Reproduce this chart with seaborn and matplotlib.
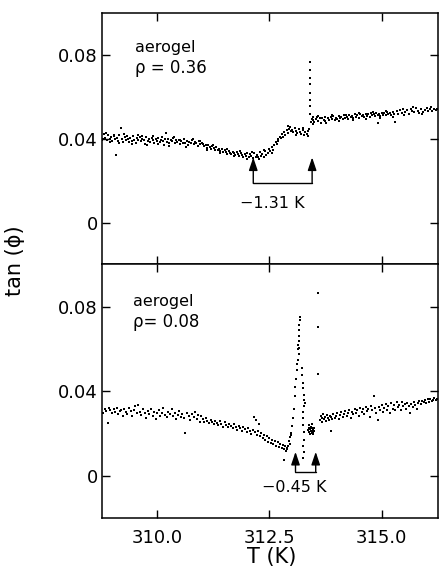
import numpy as np
import pandas as pd
import matplotlib
matplotlib.use("Agg")
import matplotlib.pyplot as plt
import seaborn as sns

# ---------------- data: aerogel rho = 0.36 ----------------
top_T = [
    308.76, 308.79, 308.82, 308.85, 308.88, 308.91, 308.94, 308.97, 309.00, 309.03,
    309.06, 309.08, 309.10, 309.13, 309.16, 309.19, 309.22, 309.25, 309.28, 309.31,
    309.34, 309.37, 309.40, 309.43, 309.46, 309.49, 309.52, 309.55, 309.58, 309.61,
    309.64, 309.67, 309.70, 309.73, 309.76, 309.79, 309.82, 309.85, 309.88, 309.91,
    309.94, 309.97, 310.00, 310.03, 310.06, 310.09, 310.12, 310.15, 310.18, 310.20,
    310.21, 310.24, 310.27, 310.30, 310.33, 310.36, 310.39, 310.42, 310.45, 310.48,
    310.51, 310.54, 310.57, 310.60, 310.63, 310.66, 310.69, 310.72, 310.75, 310.78,
    310.81, 310.84, 310.87, 310.90, 310.93, 310.96, 310.99,
    311.02, 311.05, 311.08, 311.11, 311.14, 311.17, 311.20, 311.23, 311.26, 311.29,
    311.32, 311.35, 311.38, 311.41, 311.44, 311.47, 311.50, 311.53, 311.56, 311.59,
    311.62, 311.65, 311.68, 311.71, 311.74, 311.77, 311.80, 311.83, 311.86, 311.89,
    311.92, 311.95, 311.98, 312.01, 312.04, 312.07, 312.10, 312.13, 312.16, 312.19,
    312.22, 312.25, 312.28, 312.31, 312.34, 312.37, 312.40, 312.43,
    312.46, 312.49, 312.52, 312.55, 312.58, 312.61, 312.64, 312.67, 312.70, 312.73,
    312.76, 312.79, 312.82, 312.85, 312.88, 312.91, 312.92, 312.94, 312.97, 313.00,
    313.03, 313.06, 313.09, 313.12, 313.15, 313.18, 313.21, 313.24, 313.27, 313.30,
    313.33, 313.36, 313.38,
    313.41, 313.41, 313.41, 313.41, 313.41, 313.41, 313.41, 313.41,
    313.42, 313.44, 313.46, 313.48, 313.50, 313.53, 313.56, 313.59, 313.62, 313.65,
    313.68, 313.71, 313.74, 313.77, 313.80, 313.83, 313.86, 313.89, 313.92, 313.95,
    313.98, 314.01, 314.04, 314.07, 314.10, 314.13, 314.16, 314.19, 314.22, 314.25,
    314.28, 314.31, 314.34, 314.37, 314.40, 314.43, 314.46, 314.49, 314.52, 314.55,
    314.58, 314.61, 314.64, 314.67, 314.70, 314.73, 314.76, 314.79, 314.82, 314.85,
    314.88, 314.91, 314.91, 314.94, 314.97, 315.00, 315.03, 315.06, 315.09, 315.12,
    315.15, 315.18, 315.21, 315.24, 315.27, 315.30,
    315.33, 315.36, 315.40, 315.44, 315.48, 315.52, 315.56, 315.60, 315.64, 315.68,
    315.72, 315.76, 315.80, 315.84, 315.88, 315.92, 315.96, 316.00, 316.04, 316.08,
    316.12, 316.16, 316.20, 316.24,
    # second sweep through the same range
    308.78, 308.87, 308.95, 309.05, 309.15, 309.27, 309.36, 309.45, 309.57, 309.66,
    309.78, 309.90, 310.02, 310.11, 310.26, 310.38, 310.52, 310.65, 310.80, 310.95,
    311.10, 311.25, 311.40, 311.55, 311.70, 311.85, 312.00, 312.12, 312.26, 312.38,
    312.56, 312.68, 312.80, 312.96, 313.10, 313.25, 313.35, 313.47, 313.58, 313.73,
    313.90, 314.05, 314.20, 314.35, 314.50, 314.66, 314.80, 314.95, 315.10, 315.25,
    315.50, 315.70, 315.90, 316.10,
]
top_tan = [
    .0412, .0398, .0421, .0404, .0392, .0416, .0400, .0409, .0388, .0413,
    .0397, .0322, .0405, .0390, .0418, .0452, .0399, .0386, .0408, .0394,
    .0411, .0383, .0402, .0391, .0415, .0396, .0380, .0404, .0392, .0409,
    .0387, .0400, .0394, .0375, .0406, .0390, .0398, .0384, .0403, .0392,
    .0379, .0399, .0388, .0405, .0383, .0395, .0390, .0372, .0398, .0428,
    .0386, .0401, .0381, .0393, .0387, .0403, .0378, .0392, .0385, .0396,
    .0374, .0389, .0382, .0397, .0379, .0390, .0369, .0386, .0378, .0393,
    .0375, .0384, .0380, .0366, .0388, .0373, .0381,
    .0377, .0364, .0372, .0358, .0369, .0361, .0352, .0366, .0355, .0348,
    .0361, .0345, .0353, .0340, .0349, .0336, .0347, .0338, .0329, .0343,
    .0333, .0326, .0339, .0330, .0321, .0335, .0327, .0318, .0331, .0323,
    .0314, .0328, .0319, .0334, .0312, .0325, .0317, .0308, .0330, .0315,
    .0322, .0311, .0336, .0318, .0327, .0314, .0340, .0323,
    .0331, .0352, .0340, .0362, .0348, .0371, .0383, .0376, .0398, .0410,
    .0402, .0421, .0432, .0418, .0440, .0428, .0462, .0447, .0436, .0443,
    .0431, .0449, .0438, .0428, .0445, .0433, .0424, .0440, .0418, .0432,
    .0421, .0437, .0445,
    .0520, .0555, .0585, .0617, .0660, .0690, .0730, .0767,
    .0482, .0495, .0488, .0502, .0479, .0493, .0505, .0487, .0498, .0476,
    .0500, .0491, .0506, .0474, .0497, .0488, .0503, .0494, .0508, .0490,
    .0501, .0495, .0510, .0497, .0504, .0492, .0512, .0499, .0506, .0495,
    .0514, .0502, .0509, .0498, .0516, .0505, .0511, .0500, .0518, .0507,
    .0513, .0503, .0520, .0509, .0516, .0506, .0521, .0511, .0517, .0508,
    .0523, .0513, .0476, .0519, .0510, .0525, .0515, .0521, .0512, .0526,
    .0517, .0522, .0514, .0528, .0520, .0480,
    .0530, .0519, .0535, .0524, .0541, .0528, .0536, .0520, .0543, .0531,
    .0526, .0545, .0533, .0524, .0540, .0529, .0537, .0546, .0534, .0541,
    .0530, .0544, .0538, .0542,
    .0395, .0426, .0385, .0420, .0378, .0423, .0398, .0376, .0419, .0411,
    .0372, .0412, .0376, .0410, .0366, .0407, .0396, .0362, .0399, .0388,
    .0345, .0372, .0330, .0352, .0316, .0340, .0305, .0338, .0302, .0346,
    .0330, .0390, .0410, .0455, .0420, .0449, .0415, .0470, .0510, .0485,
    .0512, .0486, .0515, .0489, .0522, .0496, .0527, .0500, .0532, .0505,
    .0515, .0550, .0518, .0552,
]

# ---------------- data: aerogel rho = 0.08 ----------------
bot_T = [
    308.76, 308.80, 308.83, 308.86, 308.90, 308.93, 308.96, 309.00, 309.03, 309.07,
    309.10, 309.13, 309.17, 309.20, 309.24, 309.27, 309.30, 309.34, 309.37, 309.41,
    309.44, 309.48, 309.51, 309.55, 309.58, 309.62, 309.65, 309.69, 309.72, 309.76,
    309.79, 309.83, 309.86, 309.90, 309.93, 309.97, 310.00, 310.04, 310.07, 310.11,
    310.14, 310.18, 310.21, 310.25, 310.28, 310.32, 310.35, 310.39, 310.42, 310.46,
    310.49, 310.53, 310.56, 310.60, 310.63, 310.67, 310.70, 310.74, 310.77, 310.81,
    310.84, 310.88, 310.91, 310.95, 310.98,
    311.01, 311.05, 311.08, 311.12, 311.15, 311.19, 311.22, 311.26, 311.29, 311.33,
    311.36, 311.40, 311.43, 311.47, 311.50, 311.54, 311.57, 311.61, 311.64, 311.68,
    311.71, 311.75, 311.78, 311.82, 311.85, 311.89, 311.92, 311.96, 311.99, 312.03,
    312.06, 312.10, 312.13, 312.16, 312.18, 312.20, 312.22, 312.25, 312.27, 312.29,
    312.32, 312.35, 312.38, 312.41, 312.44, 312.47, 312.50, 312.53, 312.56, 312.59,
    312.62, 312.65, 312.68, 312.71, 312.74, 312.77, 312.80, 312.82, 312.83, 312.84,
    312.86, 312.88, 312.90, 312.92, 312.93, 312.95, 312.96, 312.97,
    312.98, 313.00, 313.02, 313.04, 313.06, 313.08, 313.09, 313.11, 313.12, 313.13,
    313.14, 313.145, 313.15, 313.15, 313.155, 313.16, 313.16, 313.165, 313.17, 313.175,
    313.22, 313.23, 313.24, 313.25, 313.26, 313.28, 313.29, 313.27, 313.25, 313.24,
    313.25, 313.26, 313.26, 313.25, 313.26, 313.25,
    313.36, 313.38, 313.39, 313.40, 313.41, 313.42, 313.43, 313.44, 313.45, 313.46,
    313.47, 313.48, 313.49, 313.50, 313.38, 313.44,
    313.58, 313.58, 313.58,
    313.62, 313.64, 313.66, 313.68, 313.70, 313.72, 313.74, 313.76, 313.78, 313.80,
    313.82, 313.84, 313.86, 313.88, 313.90, 313.92, 313.95, 313.98, 314.01, 314.04,
    314.07, 314.10, 314.13, 314.16, 314.19, 314.22, 314.25, 314.28, 314.31, 314.34,
    314.37, 314.40, 314.43, 314.46, 314.49, 314.52, 314.55, 314.58, 314.61, 314.64,
    314.67, 314.70, 314.73, 314.76, 314.79, 314.82, 314.85, 314.88, 314.91, 314.94,
    314.97, 315.00, 315.03, 315.06, 315.09, 315.12, 315.15, 315.18, 315.21, 315.24,
    315.27, 315.30, 315.33, 315.36, 315.39, 315.42, 315.45, 315.48, 315.51, 315.54,
    315.57, 315.60, 315.63, 315.66, 315.69, 315.72, 315.75, 315.78, 315.81, 315.84,
    315.87, 315.90, 315.93, 315.96, 315.99, 316.02, 316.05, 316.08, 316.11, 316.14,
    316.17, 316.20, 316.23,
]
bot_tan = [
    .0312, .0298, .0318, .0305, .0250, .0322, .0309, .0296, .0314, .0302,
    .0319, .0290, .0307, .0311, .0285, .0316, .0301, .0293, .0320, .0306,
    .0281, .0312, .0330, .0298, .0336, .0303, .0288, .0315, .0297, .0274,
    .0308, .0292, .0318, .0284, .0301, .0269, .0296, .0311, .0283, .0299,
    .0322, .0289, .0276, .0304, .0292, .0315, .0281, .0298, .0268, .0287,
    .0306, .0279, .0294, .0275, .0201, .0298, .0284, .0262, .0291, .0278,
    .0303, .0270, .0286, .0256, .0281,
    .0268, .0252, .0274, .0260, .0249, .0266, .0255, .0243, .0261, .0250,
    .0238, .0257, .0246, .0233, .0252, .0240, .0229, .0247, .0236, .0224,
    .0243, .0231, .0218, .0237, .0225, .0212, .0230, .0219, .0206, .0225,
    .0213, .0199, .0218, .0280, .0205, .0262, .0192, .0210, .0247, .0186,
    .0201, .0178, .0195, .0170, .0188, .0162, .0180, .0155, .0171, .0148,
    .0165, .0142, .0158, .0136, .0152, .0130, .0146, .0125, .0075, .0140,
    .0118, .0133, .0128, .0140, .0165, .0182, .0150, .0195,
    .0200, .0235, .0275, .0315, .0376, .0420, .0456, .0500, .0530, .0550,
    .0600, .0620, .0575, .0640, .0660, .0605, .0690, .0715, .0735, .0750,
    .0510, .0475, .0440, .0415, .0380, .0360, .0345, .0330, .0300, .0275,
    .0240, .0205, .0170, .0140, .0110, .0085,
    .0215, .0228, .0205, .0220, .0198, .0232, .0212, .0201, .0224, .0208,
    .0218, .0196, .0226, .0210, .0240, .0245,
    .0866, .0706, .0480,
    .0262, .0281, .0255, .0275, .0290, .0268, .0280, .0260, .0286, .0272,
    .0263, .0284, .0212, .0276, .0268, .0290, .0274, .0282, .0295, .0270,
    .0288, .0301, .0279, .0293, .0307, .0284, .0298, .0311, .0275, .0303,
    .0290, .0318, .0296, .0309, .0285, .0320, .0301, .0314, .0292, .0326,
    .0305, .0318, .0280, .0331, .0310, .0378, .0322, .0299, .0262, .0327,
    .0313, .0336, .0304, .0320, .0341, .0311, .0329, .0298, .0344, .0318,
    .0333, .0309, .0348, .0323, .0337, .0312, .0350, .0329, .0341, .0317,
    .0346, .0330, .0298, .0339, .0325, .0351, .0334, .0318, .0345, .0352,
    .0340, .0356, .0347, .0358, .0342, .0363, .0350, .0365, .0354, .0360,
    .0368, .0357, .0364,
]

# transition shifts marked by the arrows
top_shift_T = [313.45 - 1.31, 313.45]
bot_shift_T = [313.53 - 0.45, 313.53]

x_ticks = [310.0, 312.5, 315.0]
y_ticks = [0.0, 0.04, 0.08]
y_ticklabels = ["0", "0.04", "0.08"]

sns.set_theme(style="ticks")
plt.rcParams["font.family"] = ["DejaVu Sans"]
plt.rcParams["text.color"] = "black"
plt.rcParams["axes.linewidth"] = 1.1

fig = plt.figure(figsize=(4.41, 5.77), dpi=100)
ax_top = fig.add_axes([0.231, 0.5416, 0.762, 0.4359])
ax_bot = fig.add_axes([0.231, 0.1023, 0.762, 0.4393])

top_df = pd.DataFrame({"T": top_T, "tan": top_tan})
bot_df = pd.DataFrame({"T": bot_T, "tan": bot_tan})

for ax, df in [(ax_top, top_df), (ax_bot, bot_df)]:
    sns.scatterplot(data=df, x="T", y="tan", ax=ax, marker="s", s=4,
                    color="black", linewidth=0, legend=False)
    ax.set_xlim(308.77, 316.25)
    ax.set_ylim(-0.02, 0.1)
    ax.set_xticks(x_ticks)
    ax.set_yticks(y_ticks)
    ax.set_yticklabels(y_ticklabels)
    ax.tick_params(direction="in", length=6, width=1.0, top=True, right=True,
                   labelsize=13, pad=3, colors="black")
    ax.set_xlabel("")
    ax.set_ylabel("")
    for sp in ax.spines.values():
        sp.set_color("black")
        sp.set_linewidth(1.1)

ax_top.tick_params(labelbottom=False)
ax_bot.set_xticklabels([f"{v:.1f}" for v in x_ticks])
ax_bot.tick_params(axis="x", pad=8)


def shift_marker(ax, Ts, y_bar, y_tip, label, label_T, label_y):
    for T in Ts:
        ax.annotate("", xy=(T, y_tip), xytext=(T, y_bar),
                    arrowprops=dict(arrowstyle="-|>,head_length=0.65,head_width=0.22",
                                    color="black", lw=1.0, mutation_scale=12,
                                    shrinkA=0, shrinkB=0))
    ax.plot(Ts, [y_bar, y_bar], color="black", lw=1.0)
    ax.text(label_T, label_y, label, ha="center", va="baseline", fontsize=11.5,
            color="black")


shift_marker(ax_top, top_shift_T, 0.0188, 0.0311, "\u22121.31 K", 312.56, 0.0071)
shift_marker(ax_bot, bot_shift_T, 0.0019, 0.0113, "\u22120.45 K", 313.06, -0.0075)

ax_top.text(0.098, 0.845, "aerogel", transform=ax_top.transAxes,
            ha="left", va="baseline", fontsize=11.5, color="black")
ax_top.text(0.098, 0.761, "\u03c1 = 0.36", transform=ax_top.transAxes,
            ha="left", va="baseline", fontsize=12, color="black")
ax_bot.text(0.092, 0.836, "aerogel", transform=ax_bot.transAxes,
            ha="left", va="baseline", fontsize=11.5, color="black")
ax_bot.text(0.092, 0.753, "\u03c1= 0.08", transform=ax_bot.transAxes,
            ha="left", va="baseline", fontsize=12, color="black")

fig.text(0.034, 0.549, "tan (\u03d5)", rotation=90, ha="center", va="center",
         fontsize=15, color="black")
fig.text(0.617, 0.035, "T (K)", ha="center", va="center", fontsize=15,
         color="black")

fig.savefig("out.png", dpi=100, facecolor="white")
